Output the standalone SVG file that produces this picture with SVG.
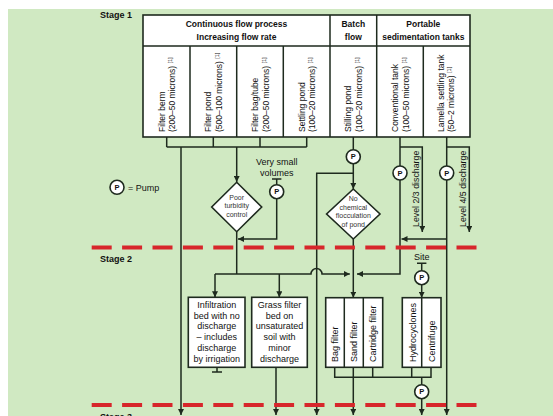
<svg xmlns="http://www.w3.org/2000/svg" width="553" height="416" viewBox="0 0 553 416">
<defs>
<marker id="ah" markerWidth="6" markerHeight="6" refX="6" refY="3" orient="auto" markerUnits="userSpaceOnUse"><path d="M0,0 L6,3 L0,6 z" fill="#1e2a1e"/></marker>
<style>
text{font-family:"Liberation Sans",Arial,sans-serif;fill:#111;}
.ln{fill:none;stroke:#1e2a1e;stroke-width:1.5;}
.ar{fill:none;stroke:#1e2a1e;stroke-width:1.5;marker-end:url(#ah);}
.box{fill:#fff;stroke:#1e2a1e;stroke-width:1.6;}
.hd{font-size:8.5px;font-weight:bold;text-anchor:middle;}
.col{font-size:8.5px;}
.sup{font-size:5.5px;}
.stg{font-size:9px;font-weight:bold;}
.bx{font-size:9px;text-anchor:middle;}
.dm{font-size:7px;text-anchor:middle;fill:#333;}
.pc{fill:#fff;stroke:#1e2a1e;stroke-width:1.6;}
.pt{font-size:7.5px;font-weight:bold;text-anchor:middle;}
.dash{stroke:#d7262b;stroke-width:4;stroke-dasharray:20 10.4;fill:none;}
</style>
<g id="pump"><circle r="7" class="pc"/><text y="2.7" class="pt">P</text></g>
</defs>
<rect x="0" y="0" width="553" height="416" fill="#fff"/>
<rect x="8" y="9" width="545" height="407" fill="#d0e9c2"/>

<g id="stage-labels">
<text x="100" y="18" class="stg">Stage 1</text>
<text x="100" y="261.5" class="stg">Stage 2</text>
<text x="100" y="420" class="stg">Stage 3</text>
</g>

<g id="legend">
<use href="#pump" x="117" y="187.3"/>
<text x="128" y="190.5" style="font-size:9px">= Pump</text>
</g>

<g id="connectors">
<path class="ln" d="M166.7,137V147M213.3,137V147M260,137V147M306.7,137V147M166.7,147H306.7"/>
<path class="ar" d="M181,147V415"/>
<path class="ar" d="M236.7,147V182"/>
<path class="ln" d="M353.3,137V149.7"/>
<path class="ar" d="M353.3,163.7V189"/>
<path class="ar" d="M353.3,173.3H316.7V415"/>
<path class="ln" d="M400,137V166"/>
<path class="ar" d="M400,180V274H357"/>
<path class="ar" d="M400,147H422.3V232"/>
<path class="ln" d="M446.7,137V166"/>
<path class="ar" d="M446.7,180V415"/>
<path class="ar" d="M446.7,147H469.3V232"/>
<path class="ar" d="M446.7,239H401.5"/>
<path class="ln" d="M272,179H281.4M276.7,179V184.7"/>
<path class="ar" d="M276.7,198.7V239H238"/>
<path class="ln" d="M236.7,231.7V274"/>
<path class="ar" d="M215,274H311A5.5,5.5 0 0 1 322,274H349.8"/>
<path class="ar" d="M215,274V297.3"/>
<path class="ar" d="M279.3,274V297.3"/>
<path class="ar" d="M353.3,239V297.7"/>
<path class="ln" d="M217,367.3V372M212,372H222"/>
<path class="ar" d="M276,367.3V415"/>
<path class="ln" d="M417,263.3H426.4M421.7,263.3V270.7"/>
<path class="ar" d="M421.7,284.7V297.7"/>
<path class="ln" d="M334.7,367.3V377.3H431V367.3M372.7,367.3V377.3M411.7,367.3V377.3"/>
<path class="ar" d="M353.3,367.3V415"/>
<path class="ln" d="M421.7,377.3V384.7"/>
<path class="ar" d="M421.7,398.7V415"/>
</g>

<g id="header-table">
<rect x="143" y="15" width="327" height="122" class="box"/>
<path class="ln" d="M143,46H470M330,15V137M376.7,15V137M190,46V137M236.7,46V137M283.3,46V137M423.3,46V137"/>
<text x="236.5" y="27" class="hd">Continuous flow process</text>
<text x="236.5" y="39.5" class="hd">Increasing flow rate</text>
<text x="353.3" y="27" class="hd">Batch</text>
<text x="353.3" y="39.5" class="hd">flow</text>
<text x="423.3" y="27" class="hd">Portable</text>
<text x="423.3" y="39.5" class="hd">sedimentation tanks</text>
</g>

<g id="col-filter-berm" transform="translate(166.5,132) rotate(-90)" class="col">
<text y="-2">Filter berm</text><text y="8.5">(200–50 microns) <tspan class="sup" dy="-3">[1]</tspan></text></g>
<g id="col-filter-pond" transform="translate(213.3,132) rotate(-90)" class="col">
<text y="-2">Filter pond</text><text y="8.5">(500–100 microns) <tspan class="sup" dy="-3">[1]</tspan></text></g>
<g id="col-filter-bag" transform="translate(260,132) rotate(-90)" class="col">
<text y="-2">Filter bag/tube</text><text y="8.5">(200–50 microns) <tspan class="sup" dy="-3">[1]</tspan></text></g>
<g id="col-settling-pond" transform="translate(306.7,132) rotate(-90)" class="col">
<text y="-2">Settling pond</text><text y="8.5">(100–20 microns) <tspan class="sup" dy="-3">[1]</tspan></text></g>
<g id="col-stilling-pond" transform="translate(353.3,132) rotate(-90)" class="col">
<text y="-2">Stilling pond</text><text y="8.5">(100–20 microns) <tspan class="sup" dy="-3">[1]</tspan></text></g>
<g id="col-conventional" transform="translate(400,132) rotate(-90)" class="col">
<text y="-2">Conventional tank</text><text y="8.5">(100–50 microns) <tspan class="sup" dy="-3">[1]</tspan></text></g>
<g id="col-lamella" transform="translate(446.7,132) rotate(-90)" class="col">
<text y="-2.5">Lamella settling tank</text><text y="7.5">(50–2 microns) <tspan class="sup" dy="-3">[1]</tspan></text></g>

<g id="level-labels" style="font-size:8.8px">
<text transform="translate(418.5,227) rotate(-90)">Level 2/3 discharge</text>
<text transform="translate(465.8,227) rotate(-90)">Level 4/5 discharge</text>
</g>

<g id="pumps">
<use href="#pump" x="353.3" y="156.7"/>
<use href="#pump" x="400" y="173"/>
<use href="#pump" x="446.7" y="173"/>
<use href="#pump" x="276.7" y="191.7"/>
<use href="#pump" x="421.7" y="277.7"/>
<use href="#pump" x="421.7" y="391.7"/>
</g>

<g id="very-small-volumes">
<text x="276.7" y="165" class="bx">Very small</text>
<text x="276.7" y="175.5" class="bx">volumes</text>
</g>
<g id="site"><text x="421.7" y="259.5" class="bx">Site</text></g>

<g id="poor-turbidity">
<polygon points="236.7,182.3 261.7,207 236.7,231.7 211.7,207" class="box"/>
<text x="236.7" y="199.5" class="dm">Poor</text>
<text x="236.7" y="208" class="dm">turbidity</text>
<text x="236.7" y="216.5" class="dm">control</text>
</g>

<g id="no-flocculation">
<polygon points="353.3,189 380,214 353.3,239 326.6,214" class="box"/>
<text x="353.3" y="201" class="dm">No</text>
<text x="353.3" y="209.5" class="dm">chemical</text>
<text x="353.3" y="218" class="dm">flocculation</text>
<text x="353.3" y="226.5" class="dm">of pond</text>
</g>

<g id="infiltration-bed">
<rect x="188.3" y="297.3" width="56.7" height="70" class="box"/>
<text x="216.7" y="308" class="bx">Infiltration</text>
<text x="216.7" y="318.7" class="bx">bed with no</text>
<text x="216.7" y="329.4" class="bx">discharge</text>
<text x="216.7" y="340.1" class="bx">– includes</text>
<text x="216.7" y="350.8" class="bx">discharge</text>
<text x="216.7" y="361.5" class="bx">by irrigation</text>
</g>

<g id="grass-filter">
<rect x="251.7" y="297.3" width="55.6" height="70" class="box"/>
<text x="279.5" y="308" class="bx">Grass filter</text>
<text x="279.5" y="318.7" class="bx">bed on</text>
<text x="279.5" y="329.4" class="bx">unsaturated</text>
<text x="279.5" y="340.1" class="bx">soil with</text>
<text x="279.5" y="350.8" class="bx">minor</text>
<text x="279.5" y="361.5" class="bx">discharge</text>
</g>

<g id="filters">
<rect x="325.7" y="297.7" width="57" height="69.6" class="box"/>
<path class="ln" d="M344.3,297.7V367.3M363.3,297.7V367.3"/>
<text transform="translate(338,362) rotate(-90)" style="font-size:9px">Bag filter</text>
<text transform="translate(357,362) rotate(-90)" style="font-size:9px">Sand filter</text>
<text transform="translate(376,362) rotate(-90)" style="font-size:9px">Cartridge filter</text>
</g>

<g id="separators">
<rect x="402.3" y="297.7" width="38.7" height="69.6" class="box"/>
<path class="ln" d="M421.7,297.7V367.3"/>
<text transform="translate(415.5,362) rotate(-90)" style="font-size:9px">Hydrocyclones</text>
<text transform="translate(434.5,362) rotate(-90)" style="font-size:9px">Centrifuge</text>
</g>

<g id="stage-dividers">
<path class="dash" d="M91.7,247.5H476.7"/>
<path class="dash" d="M91.7,405H476.7"/>
</g>
</svg>
